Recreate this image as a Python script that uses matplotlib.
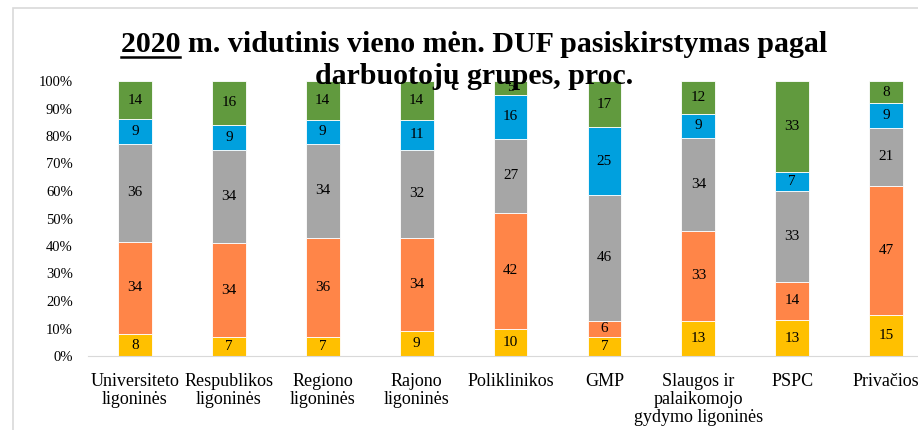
import matplotlib
matplotlib.use("Agg")
import matplotlib.pyplot as plt
import numpy as np
from matplotlib.lines import Line2D
from matplotlib.patches import Rectangle

categories = ["Universiteto\nligoninės", "Respublikos\nligoninės", "Regiono\nligoninės",
              "Rajono\nligoninės", "Poliklinikos", "GMP",
              "Slaugos ir\npalaikomojo\ngydymo ligoninės", "PSPC", "Privačios"]
s1 = [8, 7, 7, 9, 10, 7, 13, 13, 15]       # yellow
s2 = [34, 34, 36, 34, 42, 6, 33, 14, 47]   # orange
s3 = [36, 34, 34, 32, 27, 46, 34, 33, 21]  # gray
s4 = [9, 9, 9, 11, 16, 25, 9, 7, 9]        # blue
s5 = [14, 16, 14, 14, 5, 17, 12, 33, 8]    # green
yticks = [0, 10, 20, 30, 40, 50, 60, 70, 80, 90, 100]

series = [s1, s2, s3, s4, s5]
colors = ["#FFC000", "#FF8548", "#A6A6A6", "#00A0DE", "#619A3E"]

serif = ["Liberation Serif", "DejaVu Serif"]
plt.rcParams["font.family"] = serif

W, H = 918, 430
fig = plt.figure(figsize=(W / 100, H / 100), dpi=100)

# outer chart frame (cropped)
fig.patches.append(Rectangle((13 / W, -0.1), 1.2, (H - 8) / H + 0.1, transform=fig.transFigure,
                             fill=False, edgecolor="#D9D9D9", linewidth=1.2))

ax = fig.add_axes([88 / W, (H - 356) / H, (W - 88) / W, (356 - 81) / H])
data = np.array(series, dtype=float)
norm = data / data.sum(axis=0) * 100
x = np.arange(len(categories))
bottom = np.zeros(len(categories))
for vals, raw, c in zip(norm, data, colors):
    ax.bar(x, vals, 0.36, bottom=bottom, color=c, edgecolor="white", linewidth=0.6, zorder=2)
    for xi, b, v, r in zip(x, bottom, vals, raw):
        ax.text(xi, b + v / 2, f"{int(r)}", ha="center", va="center", fontsize=11,
                color="#000000", zorder=3)
    bottom += vals

ax.set_xlim(-0.5, (W - 135) / 93.9)
ax.set_ylim(0, 100)
ax.set_yticks(yticks)
ax.set_yticklabels([f"{v}%" for v in yticks], fontsize=10.5)
ax.set_xticks(x)
ax.set_xticklabels(categories, fontsize=13, linespacing=1.08)
for sp in ["top", "right", "left"]:
    ax.spines[sp].set_visible(False)
ax.spines["bottom"].set_color("#D9D9D9")
ax.tick_params(axis="both", length=0)
ax.tick_params(axis="y", pad=11)
ax.tick_params(axis="x", pad=12)

# title
cx = 474 / W
line1 = "2020 m. vidutinis vieno mėn. DUF pasiskirstymas pagal"
line2 = "darbuotojų grupes, proc."
t1 = fig.text(cx, 1 - 45 / H, line1, ha="center", va="center", fontsize=21.5,
              fontweight="bold", zorder=10)
t2 = fig.text(cx, 1 - 76 / H, line2, ha="center", va="center", fontsize=21.5,
              fontweight="bold", zorder=10)
fig.canvas.draw()
r = fig.canvas.get_renderer()
bb = t1.get_window_extent(r)
tmp = fig.text(0, 0, "2020", fontsize=21.5, fontweight="bold")
wb = tmp.get_window_extent(r)
tmp.remove()
uy = bb.y0 + 2
fig.add_artist(Line2D([bb.x0 / W, (bb.x0 + wb.width) / W], [uy / H, uy / H],
                      transform=fig.transFigure, color="black", linewidth=1.8, zorder=10))

fig.savefig("out.png", dpi=100)
